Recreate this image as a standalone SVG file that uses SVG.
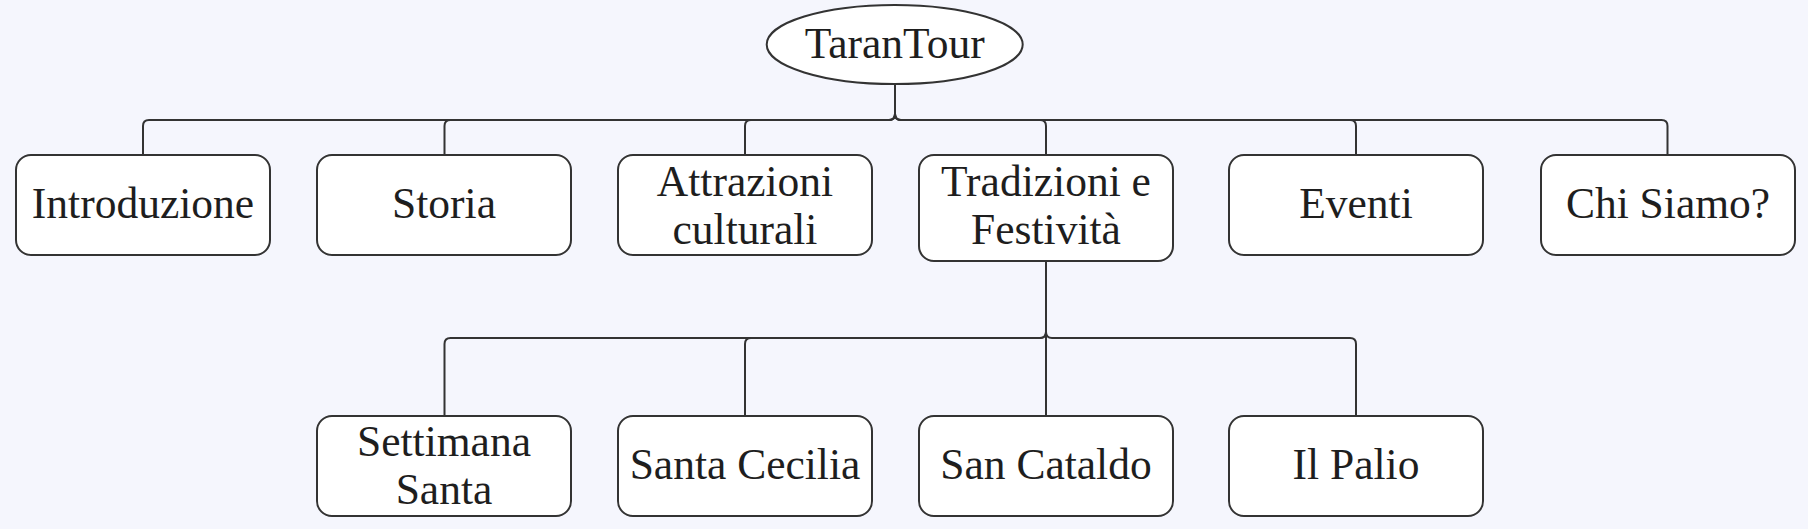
<svg xmlns="http://www.w3.org/2000/svg" width="1808" height="529" viewBox="0 0 1808 529">
<style>
.bg{fill:#f5f6fd}
.node{fill:#ffffff;stroke:#333333;stroke-width:2}
.edge{fill:none;stroke:#333333;stroke-width:2}
.lbl{font-family:"Liberation Serif","Times New Roman",serif;font-size:43.5px;fill:#1e1e1e;text-anchor:middle}
</style>
<rect class="bg" x="0" y="0" width="1808" height="529"/>
<g id="connectors">
<path class="edge" d="M895 84 V114 Q895 120 889 120 H149 Q143 120 143 126 V155"/>
<path class="edge" d="M895 84 V114 Q895 120 889 120 H450.5 Q444.5 120 444.5 126 V155"/>
<path class="edge" d="M895 84 V114 Q895 120 889 120 H751 Q745 120 745 126 V155"/>
<path class="edge" d="M895 84 V114 Q895 120 901 120 H1040 Q1046 120 1046 126 V155"/>
<path class="edge" d="M895 84 V114 Q895 120 901 120 H1350 Q1356 120 1356 126 V155"/>
<path class="edge" d="M895 84 V114 Q895 120 901 120 H1661.5 Q1667.5 120 1667.5 126 V155"/>
<path class="edge" d="M1046 261 V332 Q1046 338 1040 338 H450.5 Q444.5 338 444.5 344 V416"/>
<path class="edge" d="M1046 261 V332 Q1046 338 1040 338 H751 Q745 338 745 344 V416"/>
<path class="edge" d="M1046 261 V416"/>
<path class="edge" d="M1046 261 V332 Q1046 338 1052 338 H1350 Q1356 338 1356 344 V416"/>
</g>
<g id="root">
<ellipse class="node" cx="894.7" cy="44.5" rx="128" ry="39.5"/>
<text class="lbl" x="894.7" y="57.5">TaranTour</text>
</g>
<g id="introduzione">
<rect class="node" x="16" y="155" width="254" height="100" rx="15"/>
<text class="lbl" x="143" y="218">Introduzione</text>
</g>
<g id="storia">
<rect class="node" x="317" y="155" width="254" height="100" rx="15"/>
<text class="lbl" x="444" y="218">Storia</text>
</g>
<g id="attrazioni">
<rect class="node" x="618" y="155" width="254" height="100" rx="15"/>
<text class="lbl" x="745" y="195.5">Attrazioni</text>
<text class="lbl" x="745" y="244">culturali</text>
</g>
<g id="tradizioni">
<rect class="node" x="919" y="155" width="254" height="106" rx="15"/>
<text class="lbl" x="1046" y="195.5">Tradizioni e</text>
<text class="lbl" x="1046" y="244">Festività</text>
</g>
<g id="eventi">
<rect class="node" x="1229" y="155" width="254" height="100" rx="15"/>
<text class="lbl" x="1356" y="218">Eventi</text>
</g>
<g id="chisiamo">
<rect class="node" x="1541" y="155" width="254" height="100" rx="15"/>
<text class="lbl" x="1668" y="218">Chi Siamo?</text>
</g>
<g id="settimana">
<rect class="node" x="317" y="416" width="254" height="100" rx="15"/>
<text class="lbl" x="444" y="455.5">Settimana</text>
<text class="lbl" x="444" y="504">Santa</text>
</g>
<g id="cecilia">
<rect class="node" x="618" y="416" width="254" height="100" rx="15"/>
<text class="lbl" x="745" y="479">Santa Cecilia</text>
</g>
<g id="cataldo">
<rect class="node" x="919" y="416" width="254" height="100" rx="15"/>
<text class="lbl" x="1046" y="479">San Cataldo</text>
</g>
<g id="palio">
<rect class="node" x="1229" y="416" width="254" height="100" rx="15"/>
<text class="lbl" x="1356" y="479">Il Palio</text>
</g>
</svg>
